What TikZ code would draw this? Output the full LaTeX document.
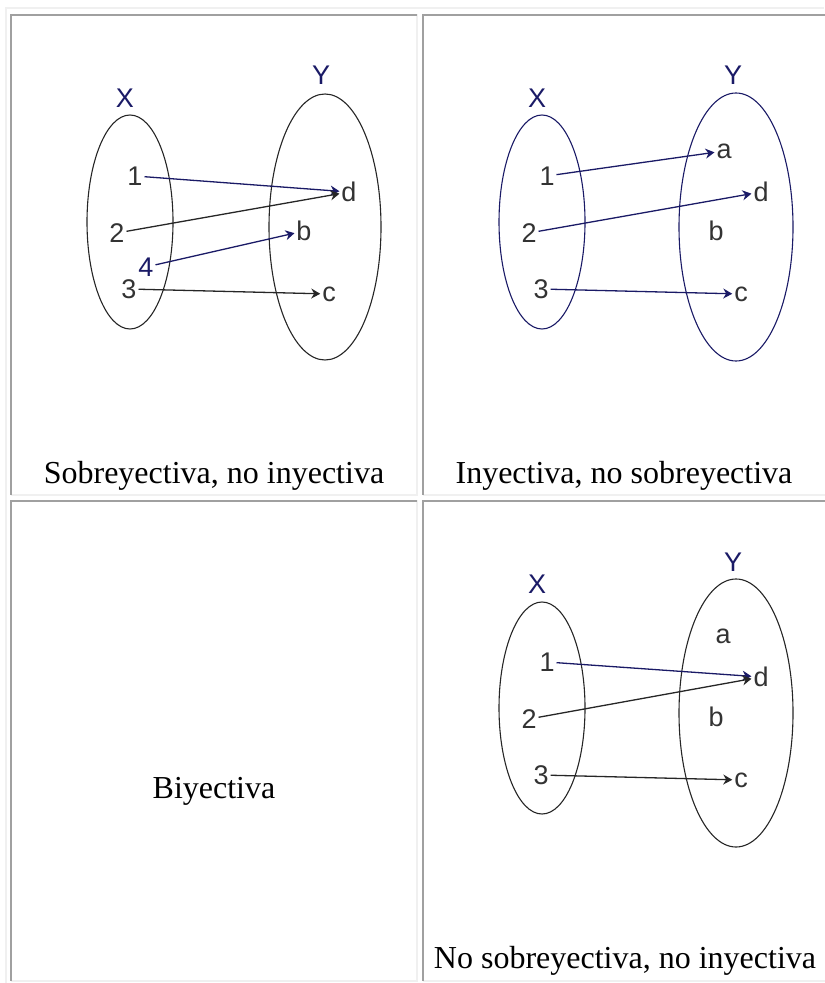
\documentclass[tikz,border=0pt]{standalone}
\usepackage{fontspec}
\setmainfont{Liberation Serif}
\newfontfamily\etiq{Liberation Sans}
\usetikzlibrary{arrows.meta}
\definecolor{marino}{HTML}{1A1A66}
\definecolor{bordeosc}{HTML}{A0A0A0}
\definecolor{bordecla}{HTML}{F0F0F0}
\definecolor{tinta}{HTML}{333333}

\begin{document}
\begin{tikzpicture}[x=0.5pt, y=-0.5pt,
    every node/.style={font=\etiq\fontsize{13.5}{15}\selectfont, inner sep=0.8pt, text=tinta},
    conj/.style={draw=black!85, line width=0.55pt},
    conjm/.style={draw=marino, line width=0.55pt},
    nombre/.style={text=marino},
    flecha/.style={->, >={Stealth[length=4.5pt, width=5pt]}, line width=0.65pt, black!85},
    flecham/.style={flecha, marino},
    leyenda/.style={font=\fontsize{16}{19}\selectfont, text=black, anchor=base},
    claro/.style={bordecla, line width=1pt},
    oscuro/.style={bordeosc, line width=1pt}]
\useasboundingbox (0,0) rectangle (824,983);
% tabla
\draw[claro] (6,983) -- (6,8) -- (824,8);
\draw[claro] (11,495) -| (417,14);
\draw[oscuro] (11,495) |- (417,15);
\draw[claro] (423,495) -| (826,14);
\draw[oscuro] (423,495) |- (826,15);
\draw[claro] (11,981) -| (417,500);
\draw[oscuro] (11,981) |- (417,501);
\draw[claro] (423,981) -| (826,500);
\draw[oscuro] (423,981) |- (826,501);

% sobreyectiva, no inyectiva
\begin{scope}[shift={(11,15)}]
\draw[conj] (119,207) ellipse [x radius=43, y radius=107];
\draw[conj] (314,212) ellipse [x radius=56, y radius=133];
\node[nombre] (sX) at (114,83) {X};
\node[nombre] (sY) at (310,60) {Y};
\node (s1) at (124,161) {1};
\node (s2) at (106,218) {2};
\node[nombre] (s4) at (135,252) {4};
\node (s3) at (118,274) {3};
\node (sd) at (338,177) {d};
\node (sb) at (293,216) {b};
\node (sc) at (318,279) {c};
\draw[flecham] (s1) -- (sd);
\draw[flecha] (s2) -- (sd);
\draw[flecham] (s4) -- (sb);
\draw[flecha] (s3) -- (sc);
\node[leyenda] (sL) at (203,468) {Sobreyectiva, no inyectiva};
\end{scope}

% inyectiva, no sobreyectiva
\begin{scope}[shift={(423,15)}]
\draw[conjm] (119,207) ellipse [x radius=43, y radius=107];
\draw[conjm] (313,212) ellipse [x radius=57, y radius=134];
\node[nombre] (iX) at (114,83) {X};
\node[nombre] (iY) at (310,60) {Y};
\node (i1) at (124,161) {1};
\node (i2) at (106,218) {2};
\node (i3) at (118,274) {3};
\node (ia) at (301,136) {a};
\node (id) at (338,177) {d};
\node (ib) at (293,216) {b};
\node (ic) at (318,279) {c};
\draw[flecham] (i1) -- (ia);
\draw[flecham] (i2) -- (id);
\draw[flecham] (i3) -- (ic);
\node[leyenda] (iL) at (201,468) {Inyectiva, no sobreyectiva};
\end{scope}

% biyectiva
\begin{scope}[shift={(11,501)}]
\node[leyenda] (bL) at (203,297) {Biyectiva};
\end{scope}

% ni sobreyectiva ni inyectiva
\begin{scope}[shift={(423,501)}]
\draw[conj] (119,207) ellipse [x radius=43, y radius=106];
\draw[conj] (313,212) ellipse [x radius=57, y radius=134];
\node[nombre] (nX) at (114,83) {X};
\node[nombre] (nY) at (310,61) {Y};
\node (n1) at (124,161) {1};
\node (n2) at (106,218) {2};
\node (n3) at (118,274) {3};
\node (na) at (300,135) {a};
\node (nd) at (338,176) {d};
\node (nb) at (293,216) {b};
\node (nc) at (318,279) {c};
\draw[flecham] (n1) -- (nd);
\draw[flecha] (n2) -- (nd);
\draw[flecha] (n3) -- (nc);
\node[leyenda] (nL) at (202,467) {No sobreyectiva, no inyectiva};
\end{scope}
\end{tikzpicture}
\end{document}
